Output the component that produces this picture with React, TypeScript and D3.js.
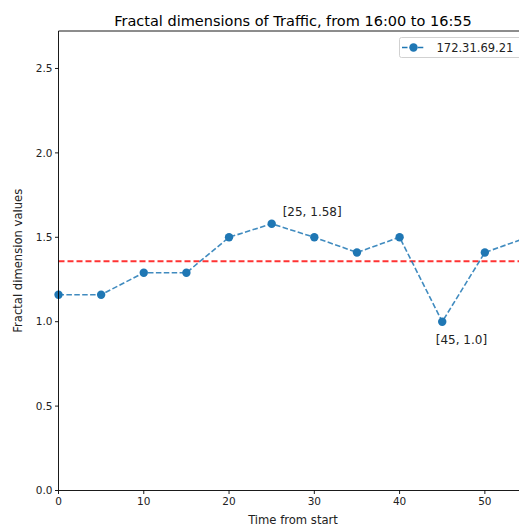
import React from "react";
import * as d3 from "d3";

const times = [0, 5, 10, 15, 20, 25, 30, 35, 40, 45, 50, 55];
const values = [1.16, 1.16, 1.29, 1.29, 1.5, 1.58, 1.5, 1.41, 1.5, 1.0, 1.41, 1.5];
const xTicks = [0, 10, 20, 30, 40, 50];
const yTicks = [0.0, 0.5, 1.0, 1.5, 2.0, 2.5];
const annotations = [
  { x: 25, y: 1.58, label: "[25, 1.58]", dx: 11, dy: -8 },
  { x: 45, y: 1.0, label: "[45, 1.0]", dx: -6.5, dy: 22 },
];
const seriesName = "172.31.69.21";
const title = "Fractal dimensions of Traffic, from 16:00 to 16:55";

const W = 519;
const H = 527;
const L = 58.5, R = 527.5, T = 31, B = 490.5;
const FONT = "DejaVu Sans, sans-serif";
const BLUE = "#1f77b4";

export default function App() {
  const x = d3.scaleLinear().domain([0, 55]).range([L, R]);
  const y = d3.scaleLinear().domain([0, 2.722]).range([B, T]);
  const mean = d3.mean(values) as number;
  const pts = times.map((t, i) => [t, values[i]] as [number, number]);
  const line = d3.line<[number, number]>().x((d) => x(d[0])).y((d) => y(d[1]));

  return (
    <svg width={W} height={H} style={{ position: "absolute", left: 0, top: 0, background: "#fff" }} fontFamily={FONT}>
      <rect width={W} height={H} fill="#fff" />
      <text x={(L + R) / 2} y={25.5} textAnchor="middle" fontSize={14.5} fill="#000">{title}</text>
      {/* mean line */}
      <line x1={L} x2={R} y1={y(mean)} y2={y(mean)} stroke="red" strokeOpacity={0.8} strokeWidth={2} strokeDasharray="6,3" />
      {/* series */}
      <path d={line(pts) || ""} fill="none" stroke={BLUE} strokeWidth={1.6} strokeDasharray="5.5,2.4" strokeOpacity={0.85} />
      {pts.map((p, i) => (
        <circle key={i} cx={x(p[0])} cy={y(p[1])} r={4.2} fill={BLUE} />
      ))}
      {annotations.map((a, i) => (
        <text key={i} x={x(a.x) + a.dx} y={y(a.y) + a.dy} fontSize={12} fill="#222">{a.label}</text>
      ))}
      {/* spines */}
      <line x1={L} x2={R} y1={T} y2={T} stroke="#000" strokeWidth={0.9} />
      <line x1={L} x2={L} y1={T} y2={B} stroke="#000" strokeWidth={0.9} />
      <line x1={R} x2={R} y1={T} y2={B} stroke="#000" strokeWidth={0.9} />
      <line x1={L} x2={R} y1={B} y2={B} stroke="#000" strokeWidth={0.9} />
      {/* x ticks */}
      {xTicks.map((t) => (
        <g key={t}>
          <line x1={x(t)} x2={x(t)} y1={B} y2={B + 3.5} stroke="#000" strokeWidth={0.9} />
          <text x={x(t)} y={B + 14} textAnchor="middle" fontSize={10.5} fill="#222">{t}</text>
        </g>
      ))}
      {yTicks.map((t) => (
        <g key={t}>
          <line x1={L - 3.5} x2={L} y1={y(t)} y2={y(t)} stroke="#000" strokeWidth={0.9} />
          <text x={L - 6} y={y(t) + 3.8} textAnchor="end" fontSize={10.5} fill="#222">{t.toFixed(1)}</text>
        </g>
      ))}
      <text x={(L + R) / 2} y={524} textAnchor="middle" fontSize={11.6} fill="#222">Time from start</text>
      <text transform={`translate(21.5, ${(T + B) / 2}) rotate(-90)`} textAnchor="middle" fontSize={11.6} fill="#222">Fractal dimension values</text>
      {/* legend */}
      <rect x={399.5} y={37.5} width={124} height={20} rx={2} fill="#fff" fillOpacity={0.8} stroke="#ccc" strokeWidth={0.9} />
      <line x1={402} x2={425} y1={47.5} y2={47.5} stroke={BLUE} strokeWidth={1.6} strokeDasharray="5.5,2.4" />
      <circle cx={413.5} cy={47.5} r={4.2} fill={BLUE} />
      <text x={436.5} y={52} fontSize={11.5} fill="#222">{seriesName}</text>
    </svg>
  );
}
